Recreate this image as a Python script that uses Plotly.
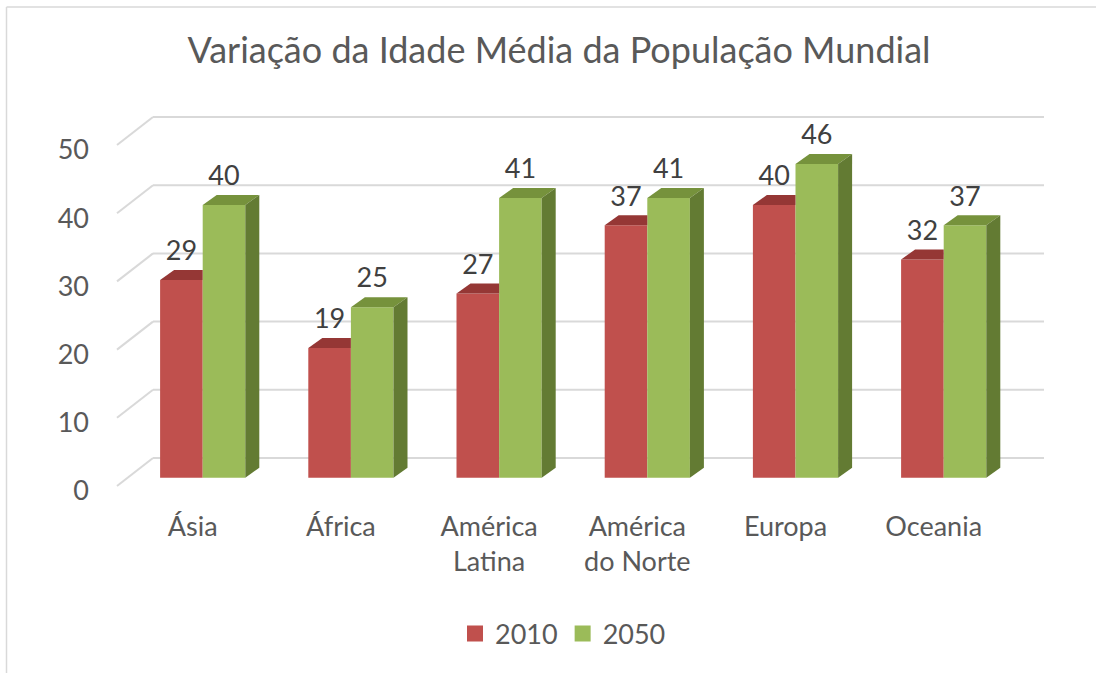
import plotly.graph_objects as go

# ---- data ----
categories = ["Ásia", "África", "América<br>Latina", "América<br>do Norte", "Europa", "Oceania"]
series_names = ["2010", "2050"]
values_2010 = [29, 19, 27, 37, 40, 32]
values_2050 = [40, 25, 41, 41, 46, 37]
y_ticks = [0, 10, 20, 30, 40, 50]
title_text = "Variação da Idade Média da População Mundial"

# ---- styling / geometry constants ----
FONT = "Lato, 'Open Sans', sans-serif"
TXT = "#595959"
LBL = "#404040"
GRID = "#d9d9d9"
RED, RED_TOP = "#C0504D", "#953735"
GRN, GRN_TOP, GRN_SIDE = "#9BBB59", "#76923C", "#637B33"

W, H = 1096, 673
ML, MR, MT, MB = 100, 36, 100, 168
PX_X = 148.2            # pixels per category
PX_Y = 6.82             # pixels per value unit
XMIN = -102.7 / PX_X
XMAX = XMIN + (W - ML - MR) / PX_X
YMIN = -19 / PX_Y
YMAX = YMIN + (H - MT - MB) / PX_Y

BAR_W = 42.6 / PX_X
BASE = 8.3 / PX_Y          # bar front plane offset above axis plane
DDX, DDY = 14 / PX_X, 10 / PX_Y     # bar depth
WDX, WDY = 36 / PX_X, 28 / PX_Y     # wall depth
X_AXIS_FRONT = XMIN + 17 / PX_X
X_WALL_END = XMIN + 944 / PX_X
LABEL_GAP = 16.5 / PX_Y

fig = go.Figure()

# gridlines (3D wall) as shapes below the bars
shapes = []
for t in y_ticks:
    shapes.append(dict(type="line", xref="x", yref="y", layer="below",
                       x0=X_AXIS_FRONT, y0=t, x1=X_AXIS_FRONT + WDX, y1=t + WDY,
                       line=dict(color=GRID, width=2)))
    shapes.append(dict(type="line", xref="x", yref="y", layer="below",
                       x0=X_AXIS_FRONT + WDX, y0=t + WDY, x1=X_WALL_END, y1=t + WDY,
                       line=dict(color=GRID, width=2)))
# chart border (left and top edges only are visible)
px2paper_x = lambda px: (px - ML) / (W - ML - MR)
px2paper_y = lambda py: (H - MB - py) / (H - MT - MB)
shapes.append(dict(type="line", xref="paper", yref="paper", layer="below",
                   x0=px2paper_x(6.5), y0=px2paper_y(7), x1=px2paper_x(W + 5), y1=px2paper_y(7),
                   line=dict(color=GRID, width=1.5)))
shapes.append(dict(type="line", xref="paper", yref="paper", layer="below",
                   x0=px2paper_x(6.5), y0=px2paper_y(7), x1=px2paper_x(6.5), y1=px2paper_y(H + 5),
                   line=dict(color=GRID, width=1.5)))

idx = list(range(len(categories)))
x_red = [i - BAR_W / 2 for i in idx]
x_grn = [i + BAR_W / 2 for i in idx]

# front faces
fig.add_trace(go.Bar(x=x_red, y=values_2010, base=BASE, width=BAR_W, marker=dict(color=RED, line=dict(width=0)),
                     showlegend=False, name=series_names[0]))
fig.add_trace(go.Bar(x=x_grn, y=values_2050, base=BASE, width=BAR_W, marker=dict(color=GRN, line=dict(width=0)),
                     showlegend=False, name=series_names[1]))

# top and side faces
for i, vr, vg in zip(idx, values_2010, values_2050):
    x0, x1 = i - BAR_W, i
    top = BASE + vr
    # red top, clipped by taller green bar in front
    if vg >= vr:
        xs = [x0, x1, x1, x0 + DDX, x0]
    else:
        xs = [x0, x1, x1 + DDX, x0 + DDX, x0]
    ys = [top, top, top + DDY, top + DDY, top]
    fig.add_trace(go.Scatter(x=xs, y=ys, fill="toself", fillcolor=RED_TOP, mode="none",
                             showlegend=False, hoverinfo="skip"))
    gx0, gx1 = i, i + BAR_W
    gtop = BASE + vg
    fig.add_trace(go.Scatter(x=[gx0, gx1, gx1 + DDX, gx0 + DDX, gx0],
                             y=[gtop, gtop, gtop + DDY, gtop + DDY, gtop],
                             fill="toself", fillcolor=GRN_TOP, mode="none", showlegend=False, hoverinfo="skip"))
    fig.add_trace(go.Scatter(x=[gx1, gx1, gx1 + DDX, gx1 + DDX, gx1],
                             y=[BASE, gtop, gtop + DDY, BASE + DDY, BASE],
                             fill="toself", fillcolor=GRN_SIDE, mode="none", showlegend=False, hoverinfo="skip"))

# data labels
for xs, vals in ((x_red, values_2010), (x_grn, values_2050)):
    fig.add_trace(go.Scatter(x=xs, y=[BASE + v + DDY + LABEL_GAP for v in vals], mode="text",
                             text=[str(v) for v in vals], textposition="middle center",
                             textfont=dict(family=FONT, size=27, color=LBL),
                             showlegend=False, hoverinfo="skip"))

# legend entries
for name, col in zip(series_names, (RED, GRN)):
    fig.add_trace(go.Scatter(x=[None], y=[None], mode="markers", name=name,
                             marker=dict(symbol="square", size=16, color=col)))

fig.update_layout(
    width=W, height=H, margin=dict(l=ML, r=MR, t=MT, b=MB),
    paper_bgcolor="white", plot_bgcolor="white",
    barmode="overlay", shapes=shapes,
    font=dict(family=FONT, color=TXT),
    title=dict(text=title_text, font=dict(family=FONT, size=36, color=TXT),
               x=559 / W, xanchor="center", xref="container",
               y=1 - 50 / H, yanchor="middle", yref="container"),
    xaxis=dict(range=[XMIN, XMAX], tickvals=[i - 10 / PX_X for i in idx], ticktext=categories,
               showgrid=False, zeroline=False, showline=False, ticks="", ticklabelstandoff=3,
               tickfont=dict(family=FONT, size=27, color=TXT), fixedrange=True),
    yaxis=dict(range=[YMIN, YMAX], tickvals=y_ticks, showgrid=False, zeroline=False, showline=False,
               ticks="", ticklabelstandoff=10, ticklabelshift=5,
               tickfont=dict(family=FONT, size=27, color=TXT), fixedrange=True),
    legend=dict(orientation="h", x=px2paper_x(563), xanchor="center", y=px2paper_y(634), yanchor="middle",
                font=dict(family=FONT, size=27, color=TXT), itemsizing="trace"),
)

fig.write_html("out.html", config={"displayModeBar": False},
               post_script="document.body.style.margin='0';document.body.style.overflow='hidden';")
